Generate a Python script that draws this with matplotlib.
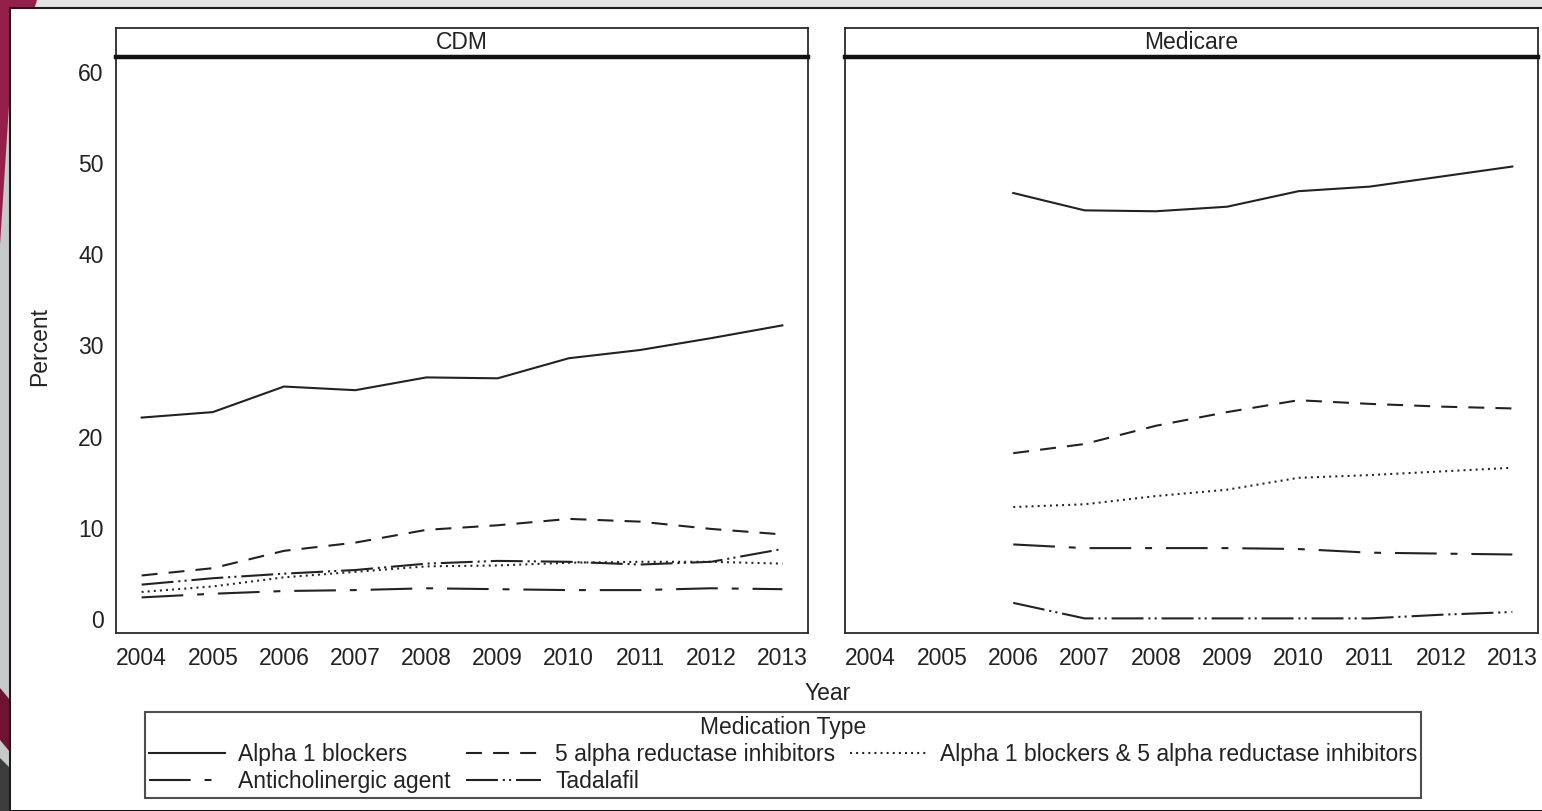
import matplotlib
matplotlib.use('Agg')
import matplotlib.pyplot as plt
from matplotlib.patches import Rectangle, Polygon

plt.rcParams['font.family'] = ['Liberation Sans', 'DejaVu Sans']
plt.rcParams['lines.scale_dashes'] = False

# ---------------- data ----------------
years_cdm = [2004, 2005, 2006, 2007, 2008, 2009, 2010, 2011, 2012, 2013]
years_medicare = [2006, 2007, 2008, 2009, 2010, 2011, 2012, 2013]

series_names = ["Alpha 1 blockers", "5 alpha reductase inhibitors",
                "Alpha 1 blockers & 5 alpha reductase inhibitors",
                "Anticholinergic agent", "Tadalafil"]

cdm_alpha1 = [22.1, 22.7, 25.5, 25.1, 26.5, 26.4, 28.6, 29.5, 30.8, 32.2]
cdm_5ari = [4.8, 5.6, 7.5, 8.4, 9.8, 10.3, 11.0, 10.7, 9.9, 9.3]
cdm_combo = [3.0, 3.6, 4.6, 5.2, 5.8, 5.9, 6.2, 6.3, 6.3, 6.1]
cdm_anticholinergic = [2.4, 2.8, 3.1, 3.2, 3.4, 3.3, 3.2, 3.2, 3.4, 3.3]
cdm_tadalafil = [3.8, 4.5, 5.0, 5.4, 6.1, 6.4, 6.3, 6.0, 6.3, 7.7]

med_alpha1 = [46.7, 44.8, 44.7, 45.2, 46.9, 47.4, 48.5, 49.6]
med_5ari = [18.2, 19.2, 21.2, 22.7, 24.0, 23.6, 23.3, 23.1]
med_combo = [12.3, 12.6, 13.5, 14.2, 15.5, 15.8, 16.2, 16.6]
med_anticholinergic = [8.2, 7.8, 7.8, 7.8, 7.7, 7.3, 7.2, 7.1]
med_tadalafil = [1.8, 0.1, 0.1, 0.1, 0.1, 0.1, 0.5, 0.8]

panel_titles = ["CDM", "Medicare"]
x_ticks = years_cdm
y_ticks = [0, 10, 20, 30, 40, 50, 60]

# ---------------- styles ----------------
styles = [
    '-',
    (0, (11.5, 8)),
    (0, (1.4, 3.0)),
    (0, (30, 10, 5, 10)),
    (0, (23, 3.5, 1.5, 3, 1.5, 3.5)),
]
line_color = '#222222'
lw = 1.5
FS = 16.5

W, H = 1542, 811
def fx(x): return x / W
def fy(y): return 1 - y / H

fig = plt.figure(figsize=(W / 100, H / 100), dpi=100)
fig.patch.set_facecolor('#e2e2e2')

# slide-like background decorations
fig.patches.append(Rectangle((0, 0), fx(10), 1, transform=fig.transFigure,
                             facecolor='#c6c9ca', edgecolor='none', zorder=-5))
fig.patches.append(Polygon([(0, fy(0)), (fx(37), fy(0)), (fx(10), fy(90)), (0, fy(245))],
                           closed=True, transform=fig.transFigure,
                           facecolor='#951f4b', edgecolor='none', zorder=-4))
fig.patches.append(Polygon([(0, fy(688)), (fx(10), fy(700)), (fx(10), fy(752)), (0, fy(740))],
                           closed=True, transform=fig.transFigure,
                           facecolor='#6e1432', edgecolor='none', zorder=-4))
fig.patches.append(Polygon([(0, fy(758)), (fx(10), fy(768)), (fx(10), 0), (0, 0)],
                           closed=True, transform=fig.transFigure,
                           facecolor='#3c3c3c', edgecolor='none', zorder=-4))
fig.patches.append(Rectangle((fx(10), 0), 1, fy(8), transform=fig.transFigure,
                             facecolor='white', edgecolor='#1a1a1a', linewidth=1.5, zorder=-3))

panels = [
    (116, 808, years_cdm, [cdm_alpha1, cdm_5ari, cdm_combo, cdm_anticholinergic, cdm_tadalafil]),
    (845, 1538, years_medicare, [med_alpha1, med_5ari, med_combo, med_anticholinergic, med_tadalafil]),
]

handles = []
for i, (x0, x1, yrs, data) in enumerate(panels):
    ax = fig.add_axes([fx(x0), fy(633), fx(x1) - fx(x0), fy(57) - fy(633)])
    for j, (vals, ls) in enumerate(zip(data, styles)):
        ln, = ax.plot(yrs, vals, linestyle=ls, color=line_color, linewidth=lw,
                      label=series_names[j])
        if i == 0:
            handles.append(ln)
    ax.set_xlim(2003.64, 2013.36)
    ax.set_ylim(-1.5, 61.6)
    ax.set_xticks(x_ticks)
    ax.set_xticklabels([str(y) for y in x_ticks])
    ax.set_yticks(y_ticks)
    if i == 0:
        ax.set_yticklabels([str(v) for v in y_ticks])
    else:
        ax.set_yticklabels([])
    ax.tick_params(axis='both', length=0, labelsize=FS, colors='#222222')
    ax.tick_params(axis='x', pad=10)
    ax.tick_params(axis='y', pad=9)
    for s in ax.spines.values():
        s.set_linewidth(1.3)
        s.set_color('#2a2a2a')

    st = fig.add_axes([fx(x0), fy(57), fx(x1) - fx(x0), fy(28) - fy(57)])
    st.set_xticks([])
    st.set_yticks([])
    for s in st.spines.values():
        s.set_linewidth(1.3)
        s.set_color('#2a2a2a')
    st.spines['bottom'].set_linewidth(3.2)
    st.spines['bottom'].set_color('#111111')
    st.text(0.5, 0.5, panel_titles[i], ha='center', va='center',
            fontsize=FS, color='#222222', transform=st.transAxes)

fig.text(fx(40), fy(347), 'Percent', rotation=90, ha='center', va='center',
         fontsize=FS, color='#222222')
fig.text(fx(828), fy(694), 'Year', ha='center', va='center',
         fontsize=FS, color='#222222')

order = [0, 3, 1, 4, 2]
leg = fig.legend([handles[k] for k in order], [series_names[k] for k in order],
                 loc='upper center', bbox_to_anchor=(fx(783), fy(712)),
                 ncol=3, title='Medication Type', frameon=True, fancybox=False,
                 fontsize=FS, title_fontsize=FS, handlelength=3.3,
                 handletextpad=0.6, columnspacing=0.65, borderpad=0.18,
                 labelspacing=0.18, borderaxespad=0)
leg.get_frame().set_edgecolor('#222222')
leg.get_frame().set_linewidth(1.5)
for t in leg.get_texts():
    t.set_color('#222222')
leg.get_title().set_color('#222222')

fig.savefig('out.png', dpi=100, facecolor=fig.get_facecolor())
